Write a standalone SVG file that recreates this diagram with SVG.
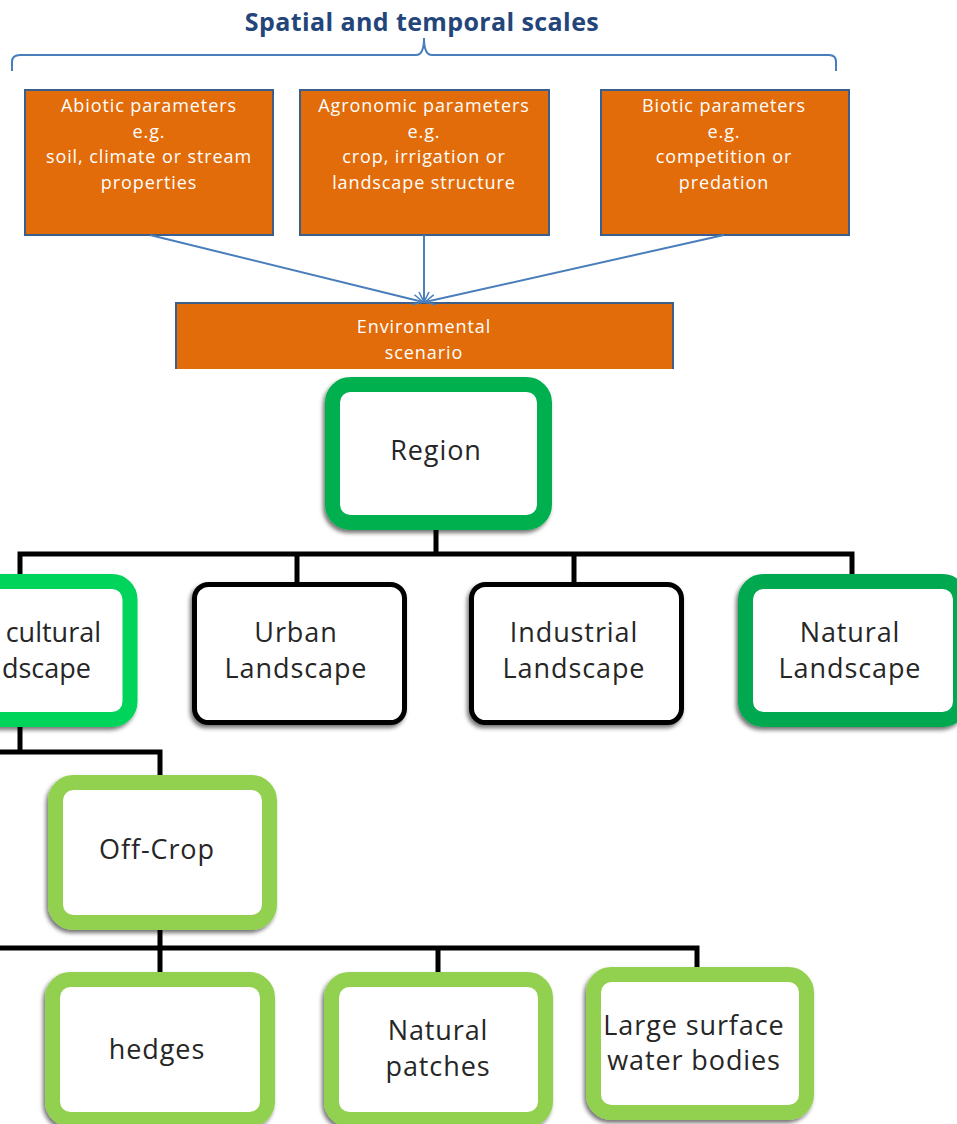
<svg xmlns="http://www.w3.org/2000/svg" width="957" height="1124" viewBox="0 0 957 1124">
<defs>
<filter id="sh" x="-20%" y="-20%" width="140%" height="140%">
<feDropShadow dx="-2" dy="3" stdDeviation="2" flood-color="#000" flood-opacity="0.55"/>
</filter>
<marker id="ah" viewBox="0 0 12 12" refX="11" refY="6" markerWidth="12" markerHeight="12" markerUnits="userSpaceOnUse" orient="auto">
<path d="M1,1 L11,6 L1,11" fill="none" stroke="#4a7ebb" stroke-width="1.6"/>
</marker>
</defs>
<style>
.title{font-family:"Open Sans","Liberation Sans",sans-serif;font-weight:bold;font-size:25px;letter-spacing:0.4px;fill:#23457a;text-anchor:middle}
.ob{fill:#e36c0a;stroke:#3b5f8c;stroke-width:2}
.ot{font-family:"Open Sans","Liberation Sans",sans-serif;font-size:18px;letter-spacing:0.9px;fill:#fff;text-anchor:middle}
.g1{fill:#fff;stroke:#00b050;stroke-width:15;filter:url(#sh)}
.g2{fill:#fff;stroke:#00d45a;stroke-width:15;filter:url(#sh)}
.g3{fill:#fff;stroke:#92d050;stroke-width:15;filter:url(#sh)}
.g4{fill:#fff;stroke:#00a84f;stroke-width:15;filter:url(#sh)}
.bk{fill:#fff;stroke:#000;stroke-width:5;filter:url(#sh)}
.nt{font-family:"Open Sans","Liberation Sans",sans-serif;font-size:27px;letter-spacing:0.9px;fill:#262626;text-anchor:middle}
.ag{letter-spacing:0;text-anchor:end}
.bl{fill:none;stroke:#4a7ebb;stroke-width:2}
.tree{fill:none;stroke:#000;stroke-width:5}
</style>
<text class="title" x="422" y="31">Spatial and temporal scales</text>
<path class="bl" d="M12,71 L12,62 Q12,55 20,55 L416,55 Q424,55 424,38 Q424,55 432,55 L829,55 Q836,55 836,62 L836,71"/>
<g id="abiotic">
<rect class="ob" x="25" y="90" width="248" height="145"/>
<text class="ot" x="149" y="112">Abiotic parameters</text>
<text class="ot" x="149" y="138">e.g.</text>
<text class="ot" x="149" y="163">soil, climate or stream</text>
<text class="ot" x="149" y="189">properties</text>
</g>
<g id="agronomic">
<rect class="ob" x="300" y="90" width="249" height="145"/>
<text class="ot" x="424" y="112">Agronomic parameters</text>
<text class="ot" x="424" y="138">e.g.</text>
<text class="ot" x="424" y="163">crop, irrigation or</text>
<text class="ot" x="424" y="189">landscape structure</text>
</g>
<g id="biotic">
<rect class="ob" x="601" y="90" width="248" height="145"/>
<text class="ot" x="724" y="112">Biotic parameters</text>
<text class="ot" x="724" y="138">e.g.</text>
<text class="ot" x="724" y="163">competition or</text>
<text class="ot" x="724" y="189">predation</text>
</g>
<g id="environmental">
<path d="M176,369 L176,303 L673,303 L673,369 Z" fill="#e36c0a"/>
<path d="M176,369 L176,303 L673,303 L673,369" fill="none" stroke="#3b5f8c" stroke-width="2"/>
<text class="ot" x="424" y="333">Environmental</text>
<text class="ot" x="424" y="359">scenario</text>
</g>
<g id="connectors">
<line class="bl" x1="150" y1="235" x2="423" y2="302" marker-end="url(#ah)"/>
<line class="bl" x1="424" y1="235" x2="424" y2="302" marker-end="url(#ah)"/>
<line class="bl" x1="724" y1="235" x2="425" y2="302" marker-end="url(#ah)"/>
<path class="tree" d="M436,528 L436,554 M20,578 L20,554 L852,554 L852,578 M297,554 L297,584 M574,554 L574,584"/>
<path class="tree" d="M20,725 L20,752 L0,752 M20,752 L160,752 L160,778"/>
<path class="tree" d="M160,928 L160,974 M0,948 L697,948 L697,970 M438,948 L438,974"/>
</g>
<g id="region">
<rect class="g1" x="332.5" y="384.5" width="212" height="138" rx="18"/>
<text class="nt" x="436" y="460">Region</text>
</g>
<g id="agricultural">
<rect class="g2" x="-120" y="581.5" width="250" height="138" rx="18"/>
<text class="nt ag" x="101" y="642">cultural</text>
<text class="nt ag" x="91" y="678">dscape</text>
</g>
<g id="urban">
<rect class="bk" x="194.5" y="584.5" width="210" height="138" rx="14"/>
<text class="nt" x="296" y="642">Urban</text>
<text class="nt" x="296" y="678">Landscape</text>
</g>
<g id="industrial">
<rect class="bk" x="471.5" y="584.5" width="210" height="138" rx="14"/>
<text class="nt" x="574" y="642">Industrial</text>
<text class="nt" x="574" y="678">Landscape</text>
</g>
<g id="natural">
<rect class="g4" x="745.5" y="581.5" width="215" height="138" rx="18"/>
<text class="nt" x="850" y="642">Natural</text>
<text class="nt" x="850" y="678">Landscape</text>
</g>
<g id="offcrop">
<rect class="g3" x="55.5" y="782.5" width="214" height="140" rx="18"/>
<text class="nt" x="157" y="859">Off-Crop</text>
</g>
<g id="hedges">
<rect class="g3" x="52.5" y="979.5" width="215" height="140" rx="18"/>
<text class="nt" x="157" y="1059">hedges</text>
</g>
<g id="patches">
<rect class="g3" x="331.5" y="979.5" width="214" height="140" rx="18"/>
<text class="nt" x="438" y="1040">Natural</text>
<text class="nt" x="438" y="1076">patches</text>
</g>
<g id="water">
<rect class="g3" x="593.5" y="974.5" width="213" height="138" rx="18"/>
<text class="nt" x="694" y="1035">Large surface</text>
<text class="nt" x="694" y="1070">water bodies</text>
</g>
</svg>
